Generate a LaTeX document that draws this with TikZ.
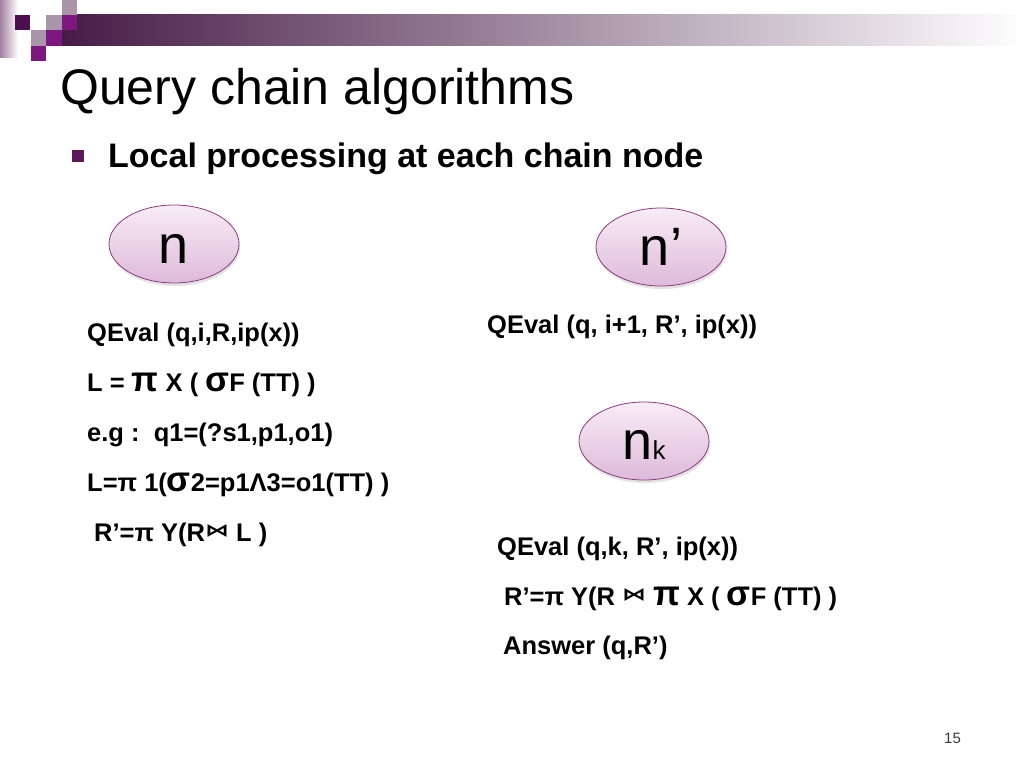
\documentclass[tikz,border=0pt]{standalone}
\usepackage{fontspec}
\setmainfont{Liberation Sans}
\newfontfamily\djv{DejaVu Sans}
\usetikzlibrary{shapes.geometric,shadows}
\definecolor{bardark}{RGB}{70,28,70}
\definecolor{barmid}{RGB}{162,152,160}
\definecolor{sqdark}{RGB}{76,14,76}
\definecolor{sqmag}{RGB}{128,22,128}
\definecolor{sqgray}{RGB}{168,150,168}
\definecolor{stripc}{RGB}{160,128,160}
\definecolor{bulletc}{RGB}{92,26,92}
\definecolor{nodeborder}{RGB}{140,60,125}
\definecolor{nodetop}{RGB}{248,236,246}
\definecolor{nodebot}{RGB}{222,186,218}
\definecolor{pagenum}{RGB}{60,60,60}
\newcommand{\bigpi}{{\fontsize{35}{35}\selectfont π}}
\newcommand{\bigsig}{{\fontsize{35}{35}\selectfont σ}}
\newcommand{\joinsym}{\raisebox{5pt}{\scalebox{1.5}[1.1]{\djv\bfseries\fontsize{16}{16}\selectfont ⋈}}}
\begin{document}
\begin{tikzpicture}[x=1pt,y=-1pt,
  body/.style={anchor=base west, inner sep=0pt, font=\bfseries\fontsize{25.5}{25.5}\selectfont},
  chainnode/.style={ellipse, draw=nodeborder, line width=0.8pt, top color=nodetop, bottom color=nodebot,
    minimum width=130pt, minimum height=78pt, inner sep=0pt,
    drop shadow={opacity=0.22, shadow xshift=1pt, shadow yshift=-3pt}},
  nodelabel/.style={anchor=base, inner sep=0pt, font=\fontsize{54}{54}\selectfont}]
\useasboundingbox (0,0) rectangle (1024,768);
\fill[white] (0,0) rectangle (1024,768);
% header decoration
\shade[left color=stripc, right color=white] (0,0) rectangle (18,58);
\shade[left color=bardark, middle color=barmid, right color=white] (62,15) rectangle (1024,46);
\fill[sqdark] (15,15) rectangle (30,30);
\fill[sqgray] (62,0) rectangle (77,15);
\fill[sqgray] (46,15) rectangle (62,30);
\fill[sqmag] (62,15) rectangle (77,30);
\fill[sqgray] (31,30) rectangle (46,46);
\fill[sqmag] (46,30) rectangle (62,46);
\fill[sqmag] (31,46) rectangle (46,61);
% title and bullet
\node[anchor=base west, inner sep=0pt, font=\fontsize{50}{50}\selectfont] (title) at (60,104) {Query chain algorithms};
\fill[bulletc] (72,150) rectangle (84,162);
\node[anchor=base west, inner sep=0pt, font=\bfseries\fontsize{34}{34}\selectfont] (bullet) at (108,167) {Local processing at each chain node};
% chain nodes
\node[chainnode] (n) at (174,244) {};
\node[nodelabel] (nt) at (174,263) {n};
\node[chainnode] (np) at (661,247) {};
\node[nodelabel] (npt) at (661,265) {n’};
\node[chainnode] (nk) at (644,441) {};
\node[nodelabel] (nkt) at (644,459) {n{\fontsize{26}{26}\selectfont k}};
% left column
\node[body] (l1) at (87,341) {QEval (q,i,R,ip(x))};
\node[body] (l2) at (87,391) {L = \bigpi{} X ( \bigsig F (TT) )};
\node[body] (l3) at (87,441) {e.g :\ \ q1=(?s1,p1,o1)};
\node[body] (l4) at (87,491) {L=π 1(\bigsig 2=p1Λ3=o1(TT) )};
\node[body] (l5) at (94,541) {R’=π Y(R\joinsym\ L )};
% right column
\node[body] (r1) at (487,333) {QEval (q, i+1, R’, ip(x))};
\node[body] (r2) at (497,555) {QEval (q,k, R’, ip(x))};
\node[body] (r3) at (504,605) {R’=π Y(R \joinsym\ \bigpi{} X ( \bigsig F (TT) )};
\node[body] (r4) at (503,654) {Answer (q,R’)};
% page number
\node[anchor=base west, inner sep=0pt, font=\fontsize{15}{15}\selectfont, text=pagenum] (pg) at (944,743) {15};
\end{tikzpicture}
\end{document}
